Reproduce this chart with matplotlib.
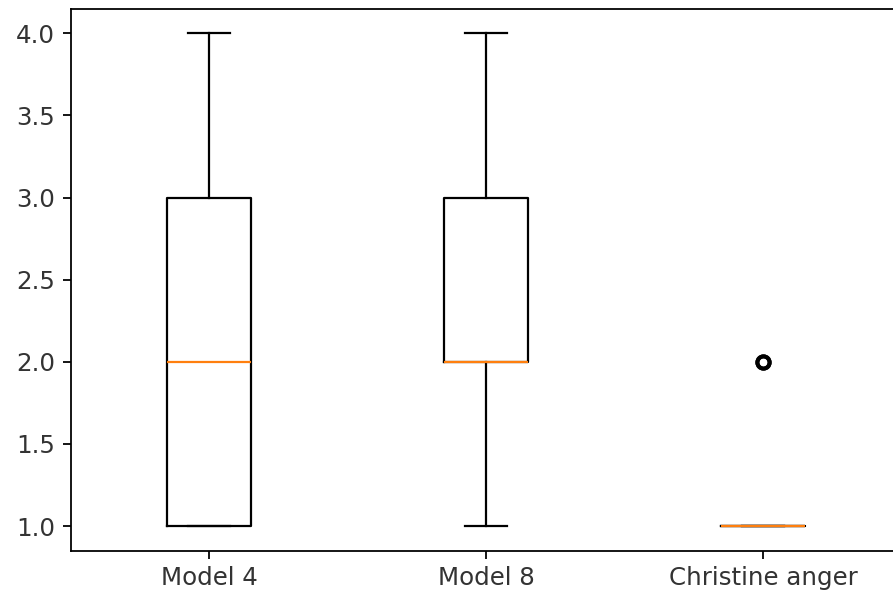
import matplotlib
matplotlib.use("Agg")
import matplotlib.pyplot as plt

# ratings per model
labels = ["Model 4", "Model 8", "Christine anger"]
model_4 = [1, 1, 2, 3, 4]
model_8 = [1, 2, 2, 3, 4]
christine_anger = [1, 1, 1, 1, 1, 1, 1, 1, 2, 2]

W, H, DPI = 893, 594, 160
fig = plt.figure(figsize=(W / DPI, H / DPI), dpi=DPI)
# axes run past the right edge, the reference is cropped there
ax = fig.add_axes([70.5 / W, (H - 550.7) / H, 831 / W, 542 / H])

ax.boxplot([model_4, model_8, christine_anger],
           flierprops=dict(markeredgewidth=1.8, markersize=5.5))
ax.set_xticks([1, 2, 3])
ax.set_xticklabels(labels)
ax.tick_params(labelsize=11, labelcolor="#333333")
ax.spines["right"].set_visible(False)

fig.savefig("out.png", dpi=DPI)
